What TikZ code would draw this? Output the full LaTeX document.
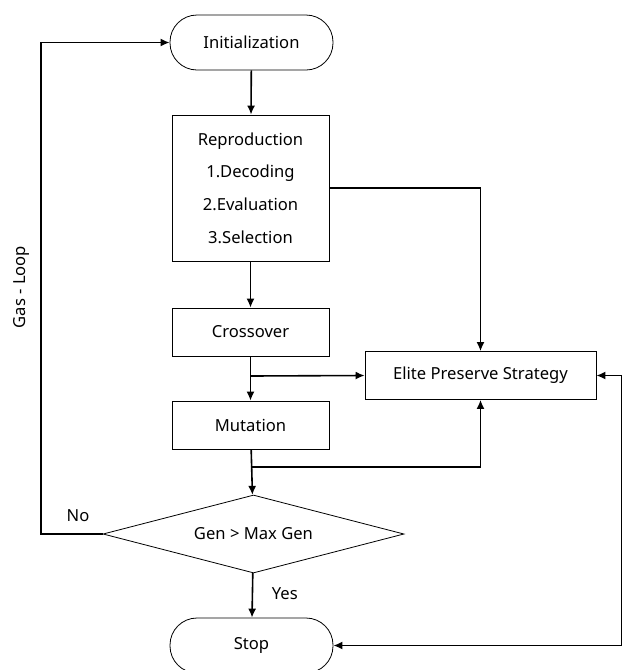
\documentclass[tikz,border=0pt]{standalone}
\usepackage{fontspec}
\setmainfont{Noto Sans}
\usetikzlibrary{shapes.geometric,arrows.meta}

\begin{document}
\begin{tikzpicture}[x=0.5pt,y=-0.5pt,font=\fontsize{8.3}{10}\selectfont,
    >={Latex[length=4.5pt,width=4pt]},
    term/.style={draw,rectangle,rounded corners=13.5pt,minimum width=81.5pt,minimum height=27.5pt,inner sep=0pt},
    proc/.style={draw,rectangle,minimum width=78.5pt,minimum height=24pt,inner sep=0pt},
    flow/.style={->,line width=0.8pt}]
  \useasboundingbox (0,0) rectangle (623,670);

  \node[term] (I) at (251.5,42.5){Initialization};
  \node[proc,minimum height=73pt,align=center] (R) at (250.5,188)
    {Reproduction\\[6.3pt]1.Decoding\\[6.3pt]2.Evaluation\\[6.3pt]3.Selection};
  \node[proc] (C) at (250.5,332){Crossover};
  \node[proc] (M) at (250.5,425){Mutation};
  \node[proc,minimum width=115.5pt] (E) at (480.5,375.5){Elite Preserve Strategy};
  \node[draw,diamond,aspect=3.86,minimum width=150.5pt,minimum height=39pt,inner sep=0pt] (D) at (253.5,534){Gen > Max Gen};
  \node[term] (S) at (251.5,645.5){Stop};

  \coordinate (c1) at (250.5,376);
  \coordinate (m1) at (250.5,467);
  \coordinate (G) at (41,534);
  \coordinate (K) at (621.5,375.5);

  \draw[flow] (I) -- (R);
  \draw[flow] (R) -- (C);
  \draw[flow] (C) -- (M);
  \draw[flow] (M) -- (D);
  \draw[flow] (D) -- node[right=6pt,pos=0.45]{Yes} (S);
  \draw[flow] (R.east) -| (E.north);
  \draw[flow] (c1) -- (E.west);
  \draw[flow] (m1) -| (E.south);
  \draw[flow] (D.west) -- (G) |- (I.west);
  \draw[<->,line width=0.8pt] (E.east) -- (K) |- (S.east);

  \node (N) at (78,516){No};
  \node[rotate=90] (L) at (21,287){Gas - Loop};
\end{tikzpicture}
\end{document}
